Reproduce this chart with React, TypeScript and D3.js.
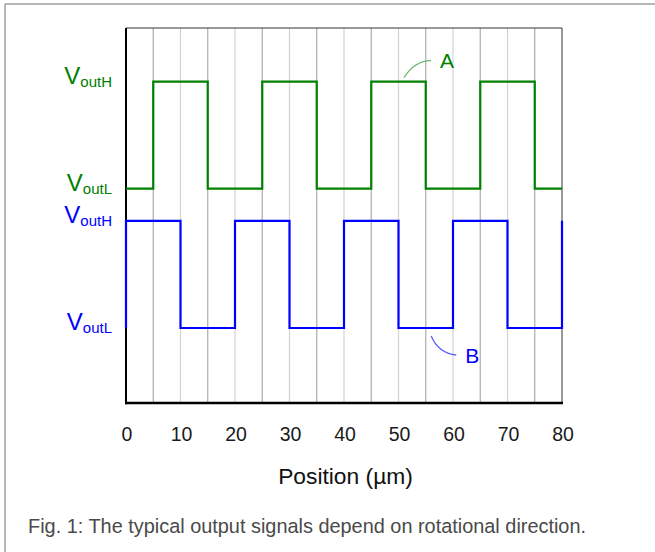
import React from 'react';
import * as d3 from 'd3';

// positions along the track (µm), one sample every 5 µm
const positionUm = [0, 5, 10, 15, 20, 25, 30, 35, 40, 45, 50, 55, 60, 65, 70, 75, 80];
// logic level of each signal from that position on (1 = VoutH, 0 = VoutL)
const signalA = [0, 1, 1, 0, 0, 1, 1, 0, 0, 1, 1, 0, 0, 1, 1, 0, 0];
const signalB = [1, 1, 0, 0, 1, 1, 0, 0, 1, 1, 0, 0, 1, 1, 0, 0, 1];
const signalBStartLevel = 0;
const xTicks = [0, 10, 20, 30, 40, 50, 60, 70, 80];
const gridLines = [5, 10, 15, 20, 25, 30, 35, 40, 45, 50, 55, 60, 65, 70, 75];

const W = 655;
const H = 552;
const margin = { left: 126, right: 93, top: 28, bottom: 149 };
const FONT = '"Liberation Sans", Arial, Helvetica, sans-serif';

const x = d3.scaleLinear().domain([0, 80]).range([margin.left, W - margin.right]);
const y = d3.scaleLinear().domain([0, 3.5]).range([H - margin.bottom, margin.top]);

const channels = [
  { name: 'A', levels: signalA, offset: 2.0, color: '#008000', soft: '#6cb86c', labelAt: 51, labelDir: 1 },
  { name: 'B', levels: signalB, offset: 0.7, color: '#0000ff', soft: '#5f5fff', labelAt: 56, labelDir: -1 },
];

const stepLine = d3.line<[number, number]>()
  .x(d => x(d[0]))
  .y(d => y(d[1]))
  .curve(d3.curveStepAfter);

export default function App() {
  const x0 = x.range()[0];
  const x1 = x.range()[1];
  const y0 = y.range()[0];
  const y1 = y.range()[1];

  return (
    <svg width={W} height={H} style={{ position: 'absolute', left: 0, top: 0, background: '#fff' }}
      fontFamily={FONT}>
      {/* outer frame */}
      <line x1={5} x2={W} y1={4} y2={4} stroke="#a0a0a0" strokeWidth={1.5} />
      <line x1={5} x2={5} y1={4} y2={H} stroke="#a0a0a0" strokeWidth={1.5} />

      {/* grid */}
      {gridLines.map(g => (
        <line key={g} x1={x(g)} x2={x(g)} y1={y1} y2={y0}
          stroke={g % 10 === 0 ? '#d2d2d2' : '#ababab'} strokeWidth={1.2} />
      ))}
      <line x1={x0} x2={x1} y1={y1} y2={y1} stroke="#333" strokeWidth={1} />
      <line x1={x1} x2={x1} y1={y1} y2={y0} stroke="#333" strokeWidth={1} />
      <line x1={x0} x2={x0} y1={y1} y2={y0 + 1.3} stroke="#000" strokeWidth={2} />
      <line x1={x0 - 1} x2={x1 + 1} y1={y0} y2={y0} stroke="#000" strokeWidth={2.6} />

      {/* signals */}
      {channels.map(ch => {
        const pts: [number, number][] = positionUm.map((p, i) => [p, ch.levels[i] + ch.offset]);
        if (ch.name === 'B') pts.unshift([0, signalBStartLevel + ch.offset]);
        return (
          <path key={ch.name} d={stepLine(pts) || ''} fill="none" stroke={ch.color}
            strokeWidth={2.2} />
        );
      })}

      {/* level labels */}
      {channels.map(ch => [
        ['outH', 1],
        ['outL', 0],
      ].map(([sub, lv]) => (
        <text key={ch.name + sub} x={x0 - 14} y={y((lv as number) + ch.offset) + 2}
          textAnchor="end" fill={ch.color}>
          <tspan fontSize={24}>V</tspan>
          <tspan fontSize={15} dy={3}>{sub}</tspan>
        </text>
      )))}

      {/* A / B callouts */}
      {channels.map(ch => {
        const sx = x(ch.labelAt);
        const hi = ch.labelDir > 0;
        const sy = hi ? y(1 + ch.offset) - 4 : y(ch.offset) + 8;
        const ex = sx + (hi ? 27 : 25);
        const ey = hi ? sy - 17 : sy + 19;
        const cx = hi ? sx + 11 : sx + 7;
        const cy = hi ? ey : ey - 2;
        return (
          <g key={'ann' + ch.name}>
            <path d={`M${sx},${sy} Q${cx},${cy} ${ex},${ey}`} fill="none" stroke={ch.soft}
              strokeWidth={1.3} />
            <text x={ex + 9} y={hi ? ey + 7 : ey + 8} fontSize={21} fill={ch.color}>{ch.name}</text>
          </g>
        );
      })}

      {/* x tick labels */}
      {xTicks.map(t => (
        <text key={t} x={x(t) + 1} y={441} textAnchor="middle" fontSize={19.5} fill="#1a1a1a">{t}</text>
      ))}
      <text x={(x0 + x1) / 2 + 1.5} y={484} textAnchor="middle" fontSize={22.8} fill="#111">Position (µm)</text>

      {/* caption */}
      <text x={28} y={533} fontSize={19.9} fill="#4a4a4a">
        Fig. 1: The typical output signals depend on rotational direction.
      </text>
    </svg>
  );
}
